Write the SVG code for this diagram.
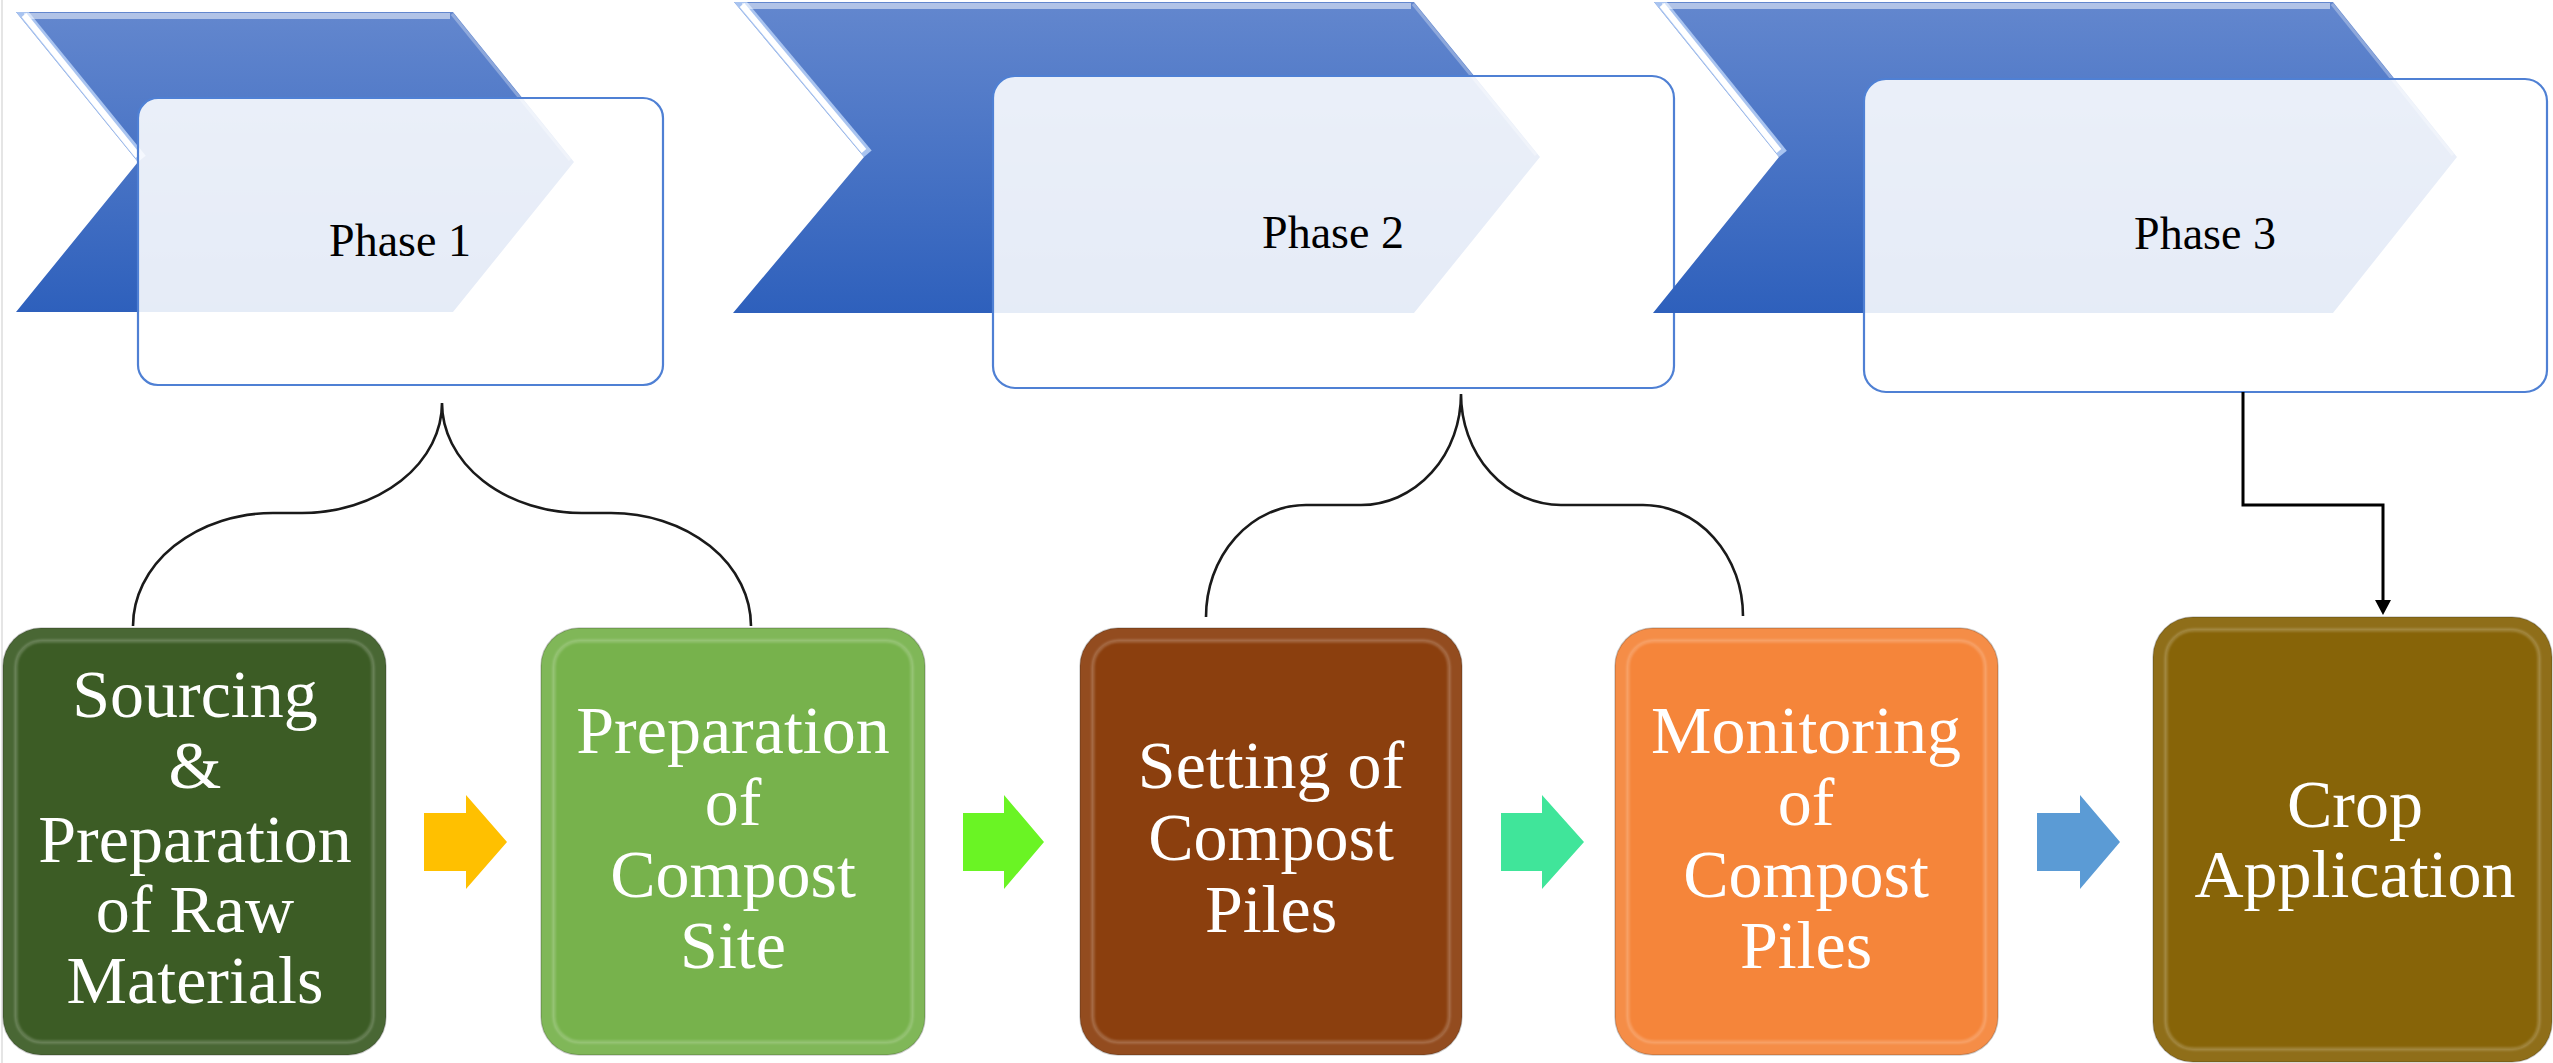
<svg xmlns="http://www.w3.org/2000/svg" width="2553" height="1063" viewBox="0 0 2553 1063">
<defs>
<style>
.chev{fill:url(#chevGrad);}
.hl{fill:none;stroke:#ffffff;stroke-linejoin:round;}
.card{fill:#ffffff;fill-opacity:0.88;stroke:#4f80d4;stroke-width:2.2;}
.ptxt{font-size:46px;fill:#000000;text-anchor:middle;}
.btxt{font-size:68px;fill:#ffffff;text-anchor:middle;}
.band{fill:none;stroke:#ffffff;stroke-opacity:0.07;stroke-width:13;}
.bevel{fill:none;stroke:#ffffff;stroke-opacity:0.22;stroke-width:3;}
.edge{stroke:#000000;stroke-opacity:0.2;stroke-width:1.5;}
.brace{fill:none;stroke:#1a1a1a;stroke-width:2.6;}
.elbow{fill:none;stroke:#000000;stroke-width:3;}
</style>
<linearGradient id="chevGrad" x1="0" y1="0" x2="0" y2="1">
<stop offset="0" stop-color="#6387ce"/>
<stop offset="1" stop-color="#2e60bc"/>
</linearGradient>
<filter id="soft" x="-5%" y="-5%" width="110%" height="110%"><feGaussianBlur stdDeviation="0.7"/></filter>
<filter id="soft2" x="-5%" y="-5%" width="110%" height="110%"><feGaussianBlur stdDeviation="1.2"/></filter>
<clipPath id="cc1"><polygon points="16,12 453,12 574,162 453,312 16,312 138,162"/></clipPath>
<clipPath id="cc2"><polygon points="734,2 1414,2 1540,157 1414,313 733,313 864,157"/></clipPath>
<clipPath id="cc3"><polygon points="1654,2 2333,2 2457,157 2333,313 1653,313 1779,157"/></clipPath>
<marker id="ah" markerUnits="userSpaceOnUse" viewBox="0 0 15 16" markerWidth="15" markerHeight="16" refX="5" refY="8" orient="auto">
<path d="M0,0 L15,8 L0,16 Z" fill="#000000"/>
</marker>
</defs>

<rect x="0" y="0" width="2553" height="1063" fill="#ffffff"/>
<line x1="2" y1="0" x2="2" y2="1063" stroke="#d4d4d4" stroke-width="1.2"/>

<g id="phase1">
<polygon class="chev" points="16,12 453,12 574,162 453,312 16,312 138,162"/>
<g clip-path="url(#cc1)">
<g filter="url(#soft)">
<polyline points="16,12 138,162" fill="none" stroke="#a9c4f0" stroke-width="20"/>
<polyline class="hl" points="24,15 138,156" stroke-width="6" stroke-opacity="1"/>
<polyline class="hl" points="24,16 450,16" stroke-width="6" stroke-opacity="0.5"/>
<polyline class="hl" points="452,14 570,160" stroke-width="3" stroke-opacity="0.3"/>
</g>
</g>
<rect class="card" x="138" y="98" width="525" height="287" rx="20"/>
<text class="ptxt" font-family="Liberation Serif, Times New Roman, serif" x="400" y="256">Phase 1</text>
</g>

<g id="phase2">
<polygon class="chev" points="734,2 1414,2 1540,157 1414,313 733,313 864,157"/>
<g clip-path="url(#cc2)">
<g filter="url(#soft)">
<polyline points="734,2 864,157" fill="none" stroke="#a9c4f0" stroke-width="20"/>
<polyline class="hl" points="742,5 864,151" stroke-width="6" stroke-opacity="1"/>
<polyline class="hl" points="742,6 1411,6" stroke-width="6" stroke-opacity="0.5"/>
<polyline class="hl" points="1413,4 1536,155" stroke-width="3" stroke-opacity="0.3"/>
</g>
</g>
<rect class="card" x="993" y="76" width="681" height="312" rx="22"/>
<text class="ptxt" font-family="Liberation Serif, Times New Roman, serif" x="1333" y="248">Phase 2</text>
</g>

<g id="phase3">
<polygon class="chev" points="1654,2 2333,2 2457,157 2333,313 1653,313 1779,157"/>
<g clip-path="url(#cc3)">
<g filter="url(#soft)">
<polyline points="1654,2 1779,157" fill="none" stroke="#a9c4f0" stroke-width="20"/>
<polyline class="hl" points="1662,5 1779,151" stroke-width="6" stroke-opacity="1"/>
<polyline class="hl" points="1662,6 2330,6" stroke-width="6" stroke-opacity="0.5"/>
<polyline class="hl" points="2332,4 2453,155" stroke-width="3" stroke-opacity="0.3"/>
</g>
</g>
<rect class="card" x="1864" y="79" width="683" height="313" rx="22"/>
<text class="ptxt" font-family="Liberation Serif, Times New Roman, serif" x="2205" y="249">Phase 3</text>
</g>

<g id="connectors">
<path class="brace" d="M133,626 A140,113 0 0 1 273,513 L302,513 A140,110 0 0 0 442,403 A140,110 0 0 0 582,513 L611,513 A140,113 0 0 1 751,626"/>
<path class="brace" d="M1206,617 A100,112 0 0 1 1306,505 L1361,505 A100,111 0 0 0 1461,394 A100,111 0 0 0 1561,505 L1643,505 A100,111 0 0 1 1743,616"/>
<path class="elbow" d="M2243,392 V505 H2383 V605" marker-end="url(#ah)"/>
<polygon fill="#ffc000" points="424,813 466,813 466,795 507,842 466,889 466,871 424,871"/>
<polygon fill="#6af424" points="963,813 1004,813 1004,795 1044,842 1004,889 1004,871 963,871"/>
<polygon fill="#40e59a" points="1501,813 1542,813 1542,795 1584,842 1542,889 1542,871 1501,871"/>
<polygon fill="#5b9bd5" points="2037,813 2080,813 2080,795 2120,842 2080,889 2080,871 2037,871"/>
</g>

<g id="box1">
<rect class="edge" x="3" y="628" width="383" height="427" rx="38" fill="#3c5c25"/>
<rect class="band" x="9.5" y="634.5" width="370" height="414" rx="31.5"/>
<rect class="bevel" x="16" y="641" width="357" height="401" rx="26" filter="url(#soft2)"/>
<g class="btxt" font-family="Liberation Serif, Times New Roman, serif">
<text x="195" y="717">Sourcing</text>
<text x="195" y="788">&amp;</text>
<text x="195" y="862">Preparation</text>
<text x="195" y="932">of Raw</text>
<text x="195" y="1003">Materials</text>
</g>
</g>

<g id="box2">
<rect class="edge" x="541" y="628" width="384" height="427" rx="38" fill="#77b24c"/>
<rect class="band" x="547.5" y="634.5" width="371" height="414" rx="31.5"/>
<rect class="bevel" x="554" y="641" width="358" height="401" rx="26" filter="url(#soft2)"/>
<g class="btxt" font-family="Liberation Serif, Times New Roman, serif">
<text x="733" y="753">Preparation</text>
<text x="733" y="825">of</text>
<text x="733" y="897">Compost</text>
<text x="733" y="968">Site</text>
</g>
</g>

<g id="box3">
<rect class="edge" x="1080" y="628" width="382" height="427" rx="38" fill="#8b3f0e"/>
<rect class="band" x="1086.5" y="634.5" width="369" height="414" rx="31.5"/>
<rect class="bevel" x="1093" y="641" width="356" height="401" rx="26" filter="url(#soft2)"/>
<g class="btxt" font-family="Liberation Serif, Times New Roman, serif">
<text x="1271" y="788">Setting of</text>
<text x="1271" y="860">Compost</text>
<text x="1271" y="932">Piles</text>
</g>
</g>

<g id="box4">
<rect class="edge" x="1615" y="628" width="383" height="427" rx="38" fill="#f5853a"/>
<rect class="band" x="1621.5" y="634.5" width="370" height="414" rx="31.5"/>
<rect class="bevel" x="1628" y="641" width="357" height="401" rx="26" filter="url(#soft2)"/>
<g class="btxt" font-family="Liberation Serif, Times New Roman, serif">
<text x="1806" y="753">Monitoring</text>
<text x="1806" y="825">of</text>
<text x="1806" y="897">Compost</text>
<text x="1806" y="968">Piles</text>
</g>
</g>

<g id="box5">
<rect class="edge" x="2153" y="617" width="399" height="445" rx="40" fill="#876408"/>
<rect class="band" x="2159.5" y="623.5" width="386" height="432" rx="33.5"/>
<rect class="bevel" x="2166" y="630" width="373" height="419" rx="28" filter="url(#soft2)"/>
<g class="btxt" font-family="Liberation Serif, Times New Roman, serif">
<text x="2355" y="827">Crop</text>
<text x="2355" y="897">Application</text>
</g>
</g>
</svg>
